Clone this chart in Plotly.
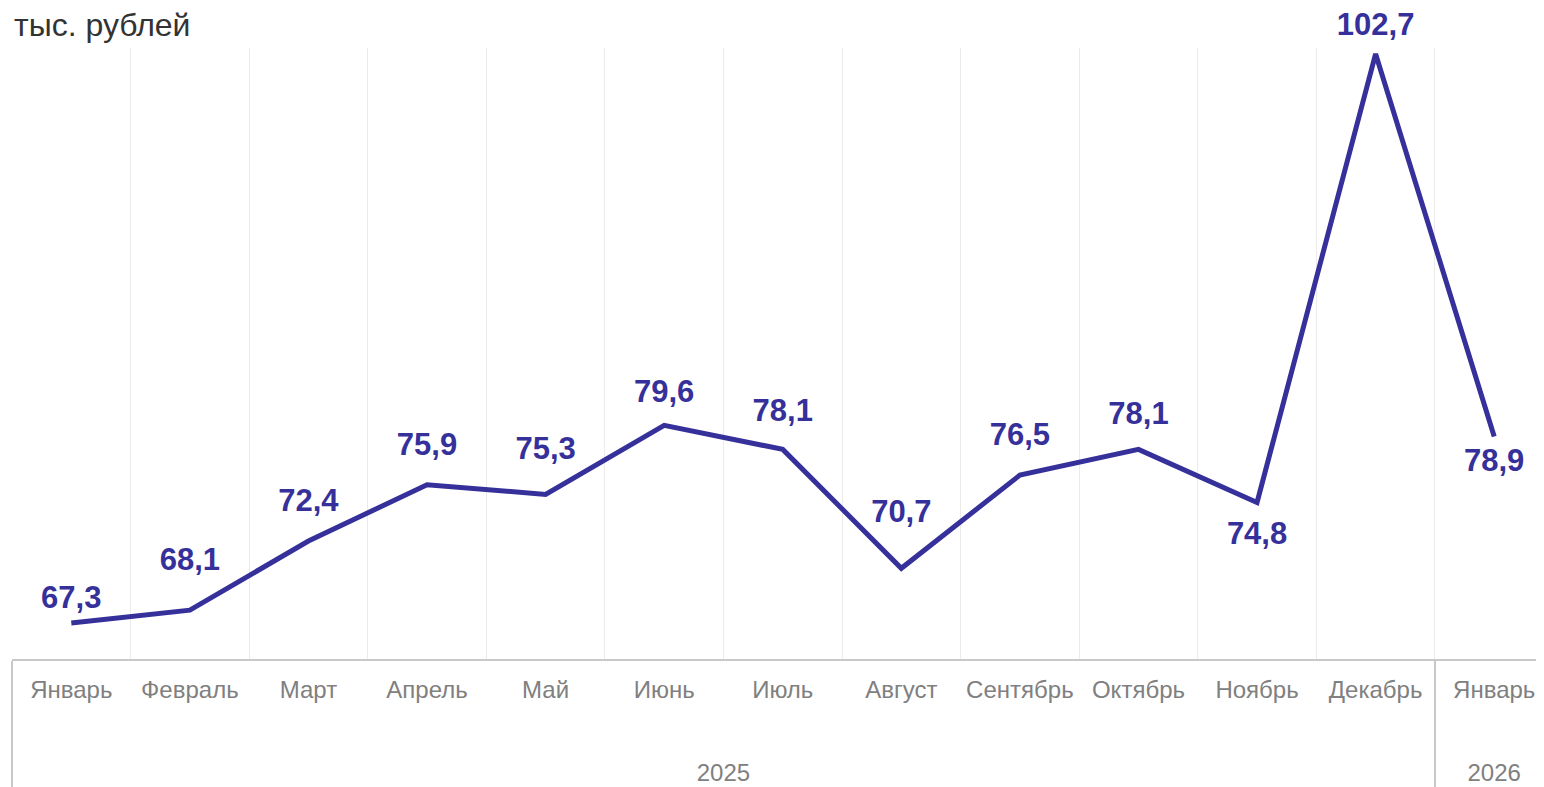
import plotly.graph_objects as go

years = ["2025"] * 12 + ["2026"]
months = ["Январь", "Февраль", "Март", "Апрель", "Май", "Июнь", "Июль",
          "Август", "Сентябрь", "Октябрь", "Ноябрь", "Декабрь", "Январь"]
values = [67.3, 68.1, 72.4, 75.9, 75.3, 79.6, 78.1, 70.7, 76.5, 78.1, 74.8, 102.7, 78.9]
labels = ["67,3", "68,1", "72,4", "75,9", "75,3", "79,6", "78,1",
          "70,7", "76,5", "78,1", "74,8", "102,7", "78,9"]

# styling: where each value label sits and how far from its point
label_pos = ["top center"] * 10 + ["bottom center", "top center", "bottom center"]
label_gap = [10, 50, 34, 34, 42, 24, 32, 60, 34, 26, 27, 16, 17]

color = "#36309a"
year_labels = ["<br><br>" + y for y in years]

fig = go.Figure(go.Scatter(
    x=[year_labels, months], y=values,
    mode="lines+markers+text",
    line=dict(color=color, width=5),
    marker=dict(size=label_gap, opacity=0, color=color),
    text=labels, textposition=label_pos,
    textfont=dict(family="Liberation Sans, Arial", size=31, color=color, weight="bold"),
    cliponaxis=False,
    hoverinfo="skip",
))

fig.update_layout(
    width=1536, height=779,
    margin=dict(l=4, r=0, t=40, b=128, autoexpand=False),
    paper_bgcolor="white", plot_bgcolor="white",
    showlegend=False,
    font=dict(family="Liberation Sans, Arial", color="#808080"),
    xaxis=dict(
        type="multicategory",
        range=[-0.5, 12.42],
        automargin=False,
        showgrid=True, gridcolor="#ebebeb", gridwidth=1,
        tickson="boundaries",
        showline=True, linecolor="#c8c8c8", linewidth=2,
        ticks="", tickfont=dict(size=24, color="#808080"),
        ticklabelstandoff=8,
        showdividers=True, dividercolor="#c8c8c8", dividerwidth=2,
        fixedrange=True,
    ),
    yaxis=dict(
        range=[65.06, 103.07],
        automargin=False,
        showgrid=False, showticklabels=False, zeroline=False, showline=False,
        fixedrange=True,
    ),
    annotations=[dict(
        text="тыс. рублей", xref="paper", yref="paper", x=0, y=1.0376,
        xanchor="left", yanchor="middle", showarrow=False,
        font=dict(size=32, color="#333333", family="Liberation Sans, Arial"),
    )],
)

fig.write_html("out.html")
